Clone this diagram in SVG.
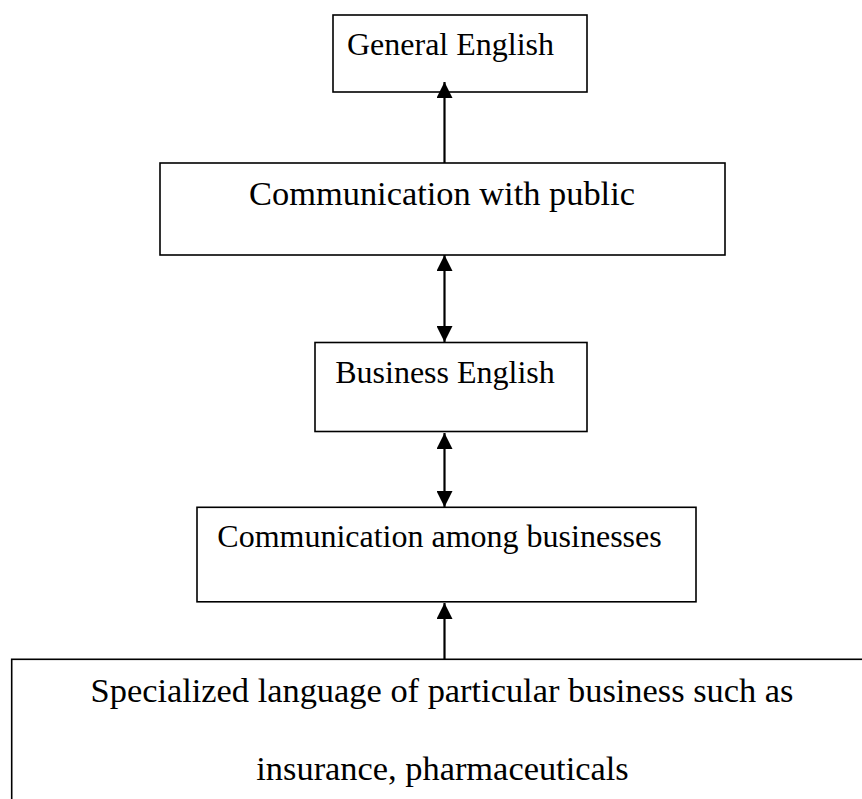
<svg xmlns="http://www.w3.org/2000/svg" width="862" height="799" viewBox="0 0 862 799">
  <style>
    .box { fill: #ffffff; stroke: #000000; stroke-width: 1.6; }
    .lbl { font-family: "Liberation Serif", "Times New Roman", serif; fill: #000000; text-anchor: middle; }
    .s32 { font-size: 32px; }
    .s34 { font-size: 34.4px; }
    .conn { stroke: #000000; stroke-width: 2.2; fill: none; }
  </style>
  <defs>
    <marker id="ah" markerUnits="userSpaceOnUse" markerWidth="16" markerHeight="16" viewBox="0 0 15 15" refX="15" refY="7.5" orient="auto-start-reverse">
      <path d="M0,0 L15,7.5 L0,15 z" fill="#000000"/>
    </marker>
  </defs>
  <rect width="862" height="799" fill="#ffffff"/>

  <g id="node-general-english">
    <rect class="box" x="333" y="15" width="254" height="77"/>
    <text class="lbl s32" x="450.5" y="55">General English</text>
  </g>

  <g id="node-communication-public">
    <rect class="box" x="160" y="163" width="565" height="92"/>
    <text class="lbl s34" x="442" y="205">Communication with public</text>
  </g>

  <g id="node-business-english">
    <rect class="box" x="315" y="342.5" width="272" height="89"/>
    <text class="lbl s32" x="445" y="382.7">Business English</text>
  </g>

  <g id="node-communication-businesses">
    <rect class="box" x="197" y="507.3" width="499" height="94.5"/>
    <text class="lbl s32" x="439.5" y="546.7">Communication among businesses</text>
  </g>

  <g id="node-specialized">
    <rect class="box" x="11.7" y="659.3" width="870" height="160"/>
    <text class="lbl s34" x="442" y="701.7">Specialized language of particular business such as</text>
    <text class="lbl s34" x="442.5" y="780">insurance, pharmaceuticals</text>
  </g>

  <g id="connectors">
    <line class="conn" x1="444.5" y1="163" x2="444.5" y2="82" marker-end="url(#ah)"/>
    <line class="conn" x1="444.5" y1="255" x2="444.5" y2="342" marker-start="url(#ah)" marker-end="url(#ah)"/>
    <line class="conn" x1="444.5" y1="433" x2="444.5" y2="507" marker-start="url(#ah)" marker-end="url(#ah)"/>
    <line class="conn" x1="444.5" y1="659.3" x2="444.5" y2="603" marker-end="url(#ah)"/>
  </g>
</svg>
